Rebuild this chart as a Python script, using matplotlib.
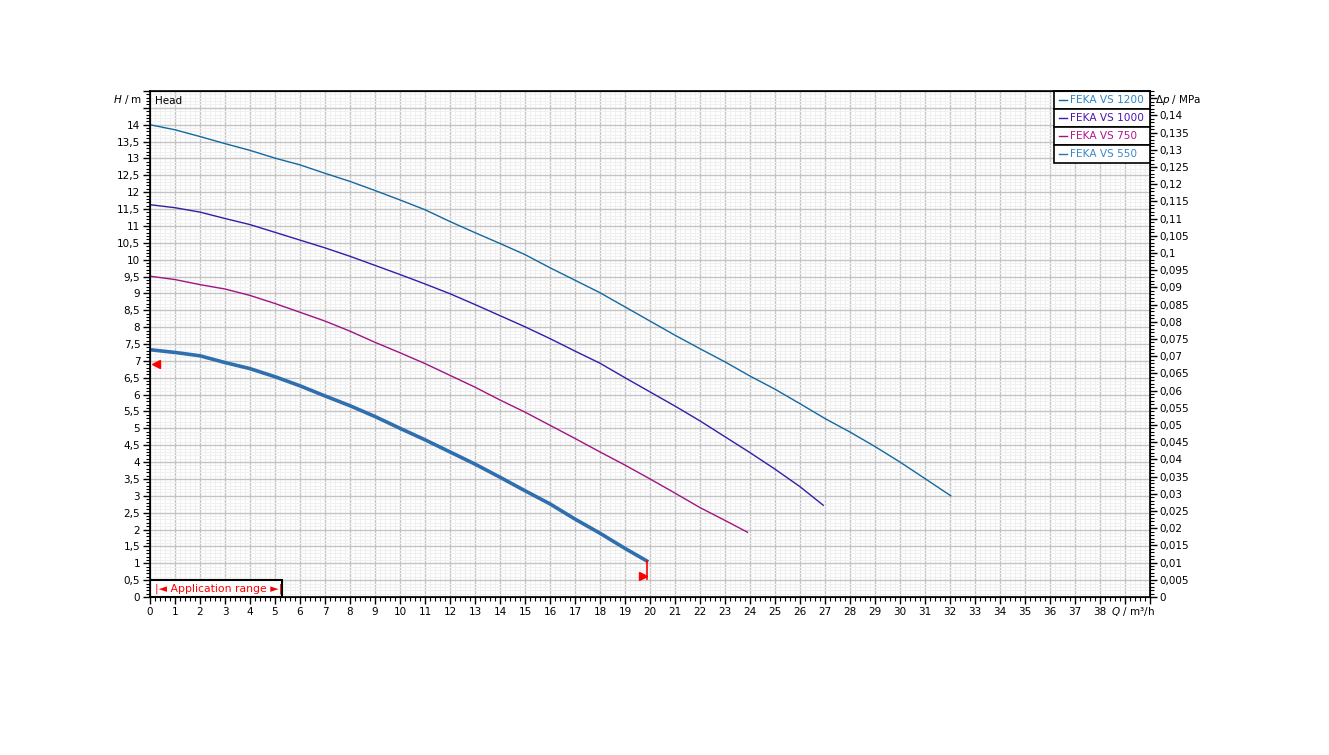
import matplotlib
matplotlib.use("Agg")
import matplotlib.pyplot as plt
from matplotlib.ticker import MultipleLocator, FuncFormatter
from matplotlib.patches import Rectangle

# pump curves: Q in m3/h, H in m
q_1200 = [0, 1, 2, 3, 4, 5, 6, 7, 8, 9, 10, 11, 12, 13, 14, 15, 16, 17, 18, 19,
          20, 21, 22, 23, 24, 25, 26, 27, 28, 29, 30, 31, 32.03]
h_1200 = [14.0, 13.85, 13.65, 13.44, 13.24, 13.01, 12.81, 12.56, 12.32, 12.05, 11.77,
          11.48, 11.13, 10.8, 10.48, 10.15, 9.76, 9.39, 9.02, 8.6, 8.18, 7.76, 7.36,
          6.97, 6.55, 6.16, 5.73, 5.29, 4.89, 4.46, 4.0, 3.51, 3.0]

q_1000 = [0, 1, 2, 3, 4, 5, 6, 7, 8, 9, 10, 11, 12, 13, 14, 15, 16, 17, 18, 19,
          20, 21, 22, 23, 24, 25, 26, 26.93]
h_1000 = [11.63, 11.54, 11.41, 11.22, 11.04, 10.81, 10.58, 10.35, 10.1, 9.83, 9.56,
          9.28, 8.99, 8.67, 8.34, 8.01, 7.66, 7.29, 6.93, 6.5, 6.08, 5.66, 5.22, 4.75,
          4.28, 3.79, 3.27, 2.72]

q_750 = [0, 1, 2, 3, 4, 5, 6, 7, 8, 9, 10, 11, 12, 13, 14, 15, 16, 17, 18, 19,
         20, 21, 22, 23, 23.9]
h_750 = [9.51, 9.41, 9.26, 9.13, 8.94, 8.7, 8.44, 8.18, 7.88, 7.55, 7.24, 6.92, 6.57,
         6.22, 5.84, 5.48, 5.09, 4.7, 4.3, 3.91, 3.5, 3.08, 2.65, 2.27, 1.92]

q_550 = [0, 1, 2, 3, 4, 5, 6, 7, 8, 9, 10, 11, 12, 13, 14, 15, 16, 17, 18, 19, 19.87]
h_550 = [7.33, 7.25, 7.15, 6.95, 6.77, 6.53, 6.26, 5.96, 5.67, 5.35, 5.0, 4.66, 4.3,
         3.94, 3.55, 3.15, 2.76, 2.31, 1.89, 1.44, 1.07]

names = ["FEKA VS 1200", "FEKA VS 1000", "FEKA VS 750", "FEKA VS 550"]
line_colors = ["#1468a0", "#3a1aa8", "#a01482", "#2f6fae"]
text_colors = ["#2a86c8", "#4a14b4", "#b4148e", "#3a88cc"]

M_PER_MPA = 101.97

fig = plt.figure(figsize=(13.29, 7.55), dpi=100)
ax = fig.add_axes([150 / 1329, 1 - 597 / 755, 1000 / 1329, 506 / 755])

ax.plot(q_1200, h_1200, color=line_colors[0], lw=1.0)
ax.plot(q_1000, h_1000, color=line_colors[1], lw=1.0)
ax.plot(q_750, h_750, color=line_colors[2], lw=1.0)
ax.plot(q_550, h_550, color=line_colors[3], lw=2.6)

# application range markers
ax.plot([q_550[-1], q_550[-1]], [h_550[-1], 0.52], color="red", lw=1.2)
ax.plot([19.72], [0.63], marker=">", color="red", ms=6)
ax.plot([0.22], [6.9], marker="<", color="red", ms=6)

ax.set_xlim(0, 40)
ax.set_ylim(0, 15)

ax.xaxis.set_major_locator(MultipleLocator(1))
ax.xaxis.set_minor_locator(MultipleLocator(0.2))
ax.yaxis.set_major_locator(MultipleLocator(0.5))
ax.yaxis.set_minor_locator(MultipleLocator(0.1))

ax.grid(which="minor", color="#f0f0f0", lw=0.8)
ax.grid(which="major", color="#c4c4c4", lw=1.0)
ax.set_axisbelow(True)


def xfmt(v, pos):
    if v > 38.5:
        return ""
    return "%d" % round(v)


def yfmt(v, pos):
    if v > 14.2:
        return ""
    return ("%g" % v).replace(".", ",")


ax.xaxis.set_major_formatter(FuncFormatter(xfmt))
ax.yaxis.set_major_formatter(FuncFormatter(yfmt))
ax.tick_params(which="major", direction="out", length=5, width=1, labelsize=7.5, pad=2)
ax.tick_params(which="minor", direction="out", length=3, width=0.8)

for s in ax.spines.values():
    s.set_linewidth(1.2)

# right axis in MPa
ax2 = ax.twinx()
ax2.set_ylim(0, 15 / M_PER_MPA)
ax2.yaxis.set_major_locator(MultipleLocator(0.005))
ax2.yaxis.set_minor_locator(MultipleLocator(0.001))


def pfmt(v, pos):
    if v > 0.1405:
        return ""
    return ("%g" % round(v, 4)).replace(".", ",")


ax2.yaxis.set_major_formatter(FuncFormatter(pfmt))
ax2.tick_params(which="major", direction="out", length=5, width=1, labelsize=7.5, pad=2)
ax2.tick_params(which="minor", direction="out", length=3, width=0.8)

# axis captions
fig.text(128 / 1329, 1 - 100 / 755, r"$\it{H}$ / m", fontsize=7.5, ha="center", va="center")
fig.text(1178 / 1329, 1 - 100 / 755, r"$\Delta\it{p}$ / MPa", fontsize=7.5, ha="center", va="center")
fig.text(1133 / 1329, 1 - 612 / 755, r"$\it{Q}$ / m³/h", fontsize=7.5, ha="center", va="center")
ax.text(0.2, 14.7, "Head", fontsize=7.5, ha="left", va="center")

# application range box
ax.add_patch(Rectangle((0, 0), 5.28, 0.5, facecolor="white", edgecolor="black", lw=1.5, zorder=5))
ax.text(2.75, 0.24, "|◄ Application range ►|", color="red", fontsize=7.8,
        ha="center", va="center", zorder=6)

# legend rows
row_h = 18 / 506
for i, name in enumerate(names):
    y0 = 1 - (i + 1) * row_h
    ax.add_patch(Rectangle((0.904, y0), 0.096, row_h, transform=ax.transAxes,
                           facecolor="white", edgecolor="black", lw=1.2, zorder=7, clip_on=False))
    ax.plot([0.909, 0.917], [y0 + row_h / 2, y0 + row_h / 2], transform=ax.transAxes,
            color=line_colors[i], lw=1.0, zorder=8, clip_on=False)
    ax.text(0.9195, y0 + row_h / 2, name, transform=ax.transAxes, color=text_colors[i],
            fontsize=7.6, ha="left", va="center", zorder=8)

fig.savefig("out.png", dpi=100)
